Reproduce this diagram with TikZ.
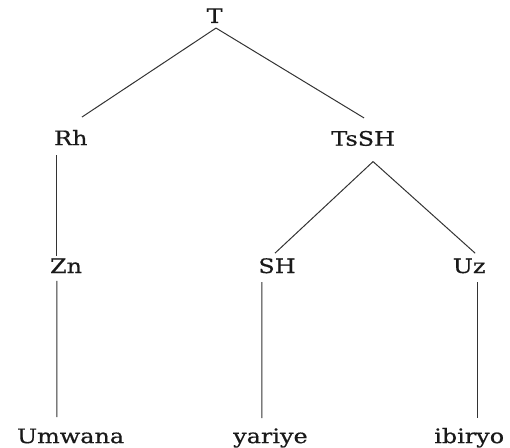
\documentclass[tikz,border=0pt]{standalone}
\usepackage{fontspec}
\setmainfont[FakeStretch=1.2,FakeBold=0.6]{DejaVu Serif}
\usepackage{tikz}

\tikzset{
  wort/.style={anchor=base, inner sep=0pt, font=\fontsize{20}{24}\selectfont, text=black!90},
  ast/.style={black!80, line width=1pt}
}

\begin{document}
\begin{tikzpicture}
\useasboundingbox (0,0) rectangle (17.99,-15.80);
% knoten des baums
\node [wort](T) at (7.57,-0.81){T};
\node [wort](Rh) at (2.50,-5.12){Rh};
\node [wort](TsSH) at (12.81,-5.14){TsSH};
\node [wort](Zn) at (2.33,-9.63){Zn};
\node [wort](SH) at (9.77,-9.63){SH};
\node [wort](Uz) at (16.55,-9.63){Uz};
% woerter unten
\node [wort](Umwana) at (2.49,-15.63){Umwana};
\node [wort](yariye) at (9.54,-15.63){yariye};
\node [wort](ibiryo) at (16.55,-15.63){ibiryo};

% aeste
\draw [ast]([xshift=0.05cm,yshift=-0.18cm]T.base) -- ([xshift=0.39cm,yshift=0.99cm]Rh.base);
\draw [ast]([xshift=0.05cm,yshift=-0.18cm]T.base) -- ([xshift=0.03cm,yshift=0.98cm]TsSH.base);
\draw [ast]([xshift=-0.49cm,yshift=-0.35cm]Rh.base) -- ([xshift=-0.32cm,yshift=0.60cm]Zn.base);
\draw [ast]([xshift=0.35cm,yshift=-0.56cm]TsSH.base) -- ([xshift=-0.07cm,yshift=0.70cm]SH.base);
\draw [ast]([xshift=0.35cm,yshift=-0.56cm]TsSH.base) -- ([xshift=0.21cm,yshift=0.70cm]Uz.base);
\draw [ast]([xshift=-0.32cm,yshift=-0.28cm]Zn.base) -- ([xshift=-0.48cm,yshift=0.92cm]Umwana.base);
\draw [ast]([xshift=-0.53cm,yshift=-0.32cm]SH.base) -- ([xshift=-0.30cm,yshift=0.88cm]yariye.base);
\draw [ast]([xshift=0.28cm,yshift=-0.32cm]Uz.base) -- ([xshift=0.28cm,yshift=0.88cm]ibiryo.base);
\end{tikzpicture}
\end{document}
